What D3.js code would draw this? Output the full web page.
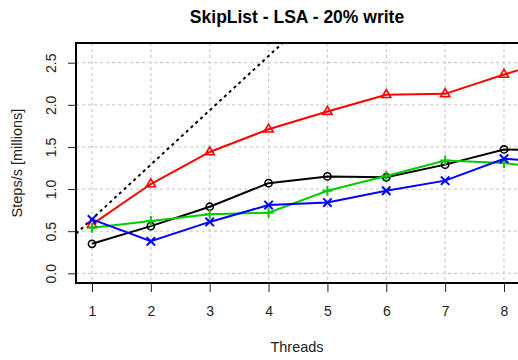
<!DOCTYPE html>
<html>
<head>
<meta charset="utf-8">
<script src="https://cdn.jsdelivr.net/npm/d3@7"></script>
<style>
  html, body { margin: 0; padding: 0; background: #fff; }
  svg { display: block; }
  text { font-family: "Liberation Sans", Arial, sans-serif; }
</style>
</head>
<body>
<svg id="chart" width="518" height="360"></svg>
<script>
// Throughput per thread count (millions of steps per second)
const threads = [1, 2, 3, 4, 5, 6, 7, 8, 9];
const seriesBlack = [0.35, 0.56, 0.79, 1.07, 1.15, 1.14, 1.29, 1.47, 1.45];
const seriesRed   = [0.58, 1.06, 1.44, 1.71, 1.92, 2.12, 2.13, 2.36, 2.57];
const seriesGreen = [0.54, 0.62, 0.70, 0.72, 0.98, 1.155, 1.34, 1.31, 1.22];
const seriesBlue  = [0.64, 0.38, 0.61, 0.81, 0.84, 0.98, 1.10, 1.36, 1.31];
// Ideal linear scaling: steps/s per thread
const idealPerThread = 0.645;
const idealThreads = [0, 9];

const xTicks = [1, 2, 3, 4, 5, 6, 7, 8];
const yTicks = [0, 0.5, 1.0, 1.5, 2.0, 2.5];

const title = "SkipList - LSA - 20% write";
const xTitle = "Threads";
const yTitle = "Steps/s [millions]";

const svg = d3.select("#chart");
const plot = { left: 76, right: 520, top: 43, bottom: 283 };

const x = d3.scaleLinear().domain([1, 8]).range([92, 504]);
const y = d3.scaleLinear().domain([0, 2.5]).range([273.3, 62.7]);

svg.append("defs").append("clipPath").attr("id", "plotClip")
  .append("rect")
  .attr("x", plot.left).attr("y", plot.top)
  .attr("width", plot.right - plot.left).attr("height", plot.bottom - plot.top);

// Grid
const grid = svg.append("g").attr("stroke", "#cfcfcf").attr("stroke-width", 1.3)
  .attr("stroke-dasharray", "3,3");
grid.selectAll("line.v").data(xTicks).join("line")
  .attr("x1", d => x(d)).attr("x2", d => x(d))
  .attr("y1", plot.top).attr("y2", plot.bottom);
grid.selectAll("line.h").data(yTicks).join("line")
  .attr("x1", plot.left).attr("x2", plot.right)
  .attr("y1", d => y(d)).attr("y2", d => y(d));

// Axes
const yAxis = svg.append("g").attr("transform", `translate(${plot.left},0)`)
  .call(d3.axisLeft(y).tickValues(yTicks).tickFormat(d3.format(".1f")).tickSize(8).tickSizeOuter(0));
yAxis.select(".domain").remove();
yAxis.selectAll(".tick line").attr("stroke", "#222").attr("stroke-width", 1);
yAxis.selectAll(".tick text")
  .attr("x", null).attr("dy", null)
  .attr("transform", "translate(-25,0) rotate(-90)")
  .attr("text-anchor", "middle").attr("dominant-baseline", "central")
  .attr("font-size", 14).attr("fill", "#222")
  .style("font-family", "'Liberation Sans', Arial, sans-serif");

const xAxis = svg.append("g").attr("transform", `translate(0,${plot.bottom})`)
  .call(d3.axisBottom(x).tickValues(xTicks).tickFormat(d3.format("d")).tickSize(9).tickSizeOuter(0));
xAxis.select(".domain").remove();
xAxis.selectAll(".tick line").attr("stroke", "#222").attr("stroke-width", 1);
xAxis.selectAll(".tick text")
  .attr("y", 28).attr("dy", null)
  .attr("dominant-baseline", "central")
  .attr("font-size", 14).attr("fill", "#222")
  .style("font-family", "'Liberation Sans', Arial, sans-serif");

// Data layer
const data = svg.append("g").attr("clip-path", "url(#plotClip)");

const line = d3.line().x(d => x(d[0])).y(d => y(d[1]));

// Ideal scaling reference
data.append("path")
  .datum(idealThreads.map(t => [t, t * idealPerThread]))
  .attr("d", line).attr("fill", "none")
  .attr("stroke", "#000").attr("stroke-width", 2).attr("stroke-dasharray", "3,3.5");

const markers = {
  circle: g => g.append("circle").attr("r", 3.6).attr("fill", "none").attr("stroke-width", 1.6),
  triangle: g => g.append("path").attr("d", "M0,-5.2L4.6,2.8L-4.6,2.8Z").attr("fill", "none").attr("stroke-width", 1.6),
  plus: g => g.append("path").attr("d", "M-5,0H5M0,-5V5").attr("fill", "none").attr("stroke-width", 2),
  cross: g => g.append("path").attr("d", "M-4.2,-4.2L4.2,4.2M-4.2,4.2L4.2,-4.2").attr("fill", "none").attr("stroke-width", 2)
};

const series = [
  { values: seriesBlack, color: "#000000", marker: "circle" },
  { values: seriesRed, color: "#ff0000", marker: "triangle" },
  { values: seriesGreen, color: "#00cd00", marker: "plus" },
  { values: seriesBlue, color: "#0000ff", marker: "cross" }
];

series.forEach(s => {
  const pts = threads.map((t, i) => [t, s.values[i]]);
  data.append("path").datum(pts).attr("d", line)
    .attr("fill", "none").attr("stroke", s.color).attr("stroke-width", 2);
  pts.forEach(p => {
    const g = data.append("g").attr("transform", `translate(${x(p[0])},${y(p[1])})`)
      .attr("stroke", s.color);
    markers[s.marker](g);
  });
});

// Plot frame
svg.append("rect")
  .attr("x", plot.left).attr("y", plot.top)
  .attr("width", plot.right - plot.left).attr("height", plot.bottom - plot.top)
  .attr("fill", "none").attr("stroke", "#000").attr("stroke-width", 2);

// Titles
svg.append("text").attr("x", 297).attr("y", 23)
  .attr("text-anchor", "middle").attr("font-size", 17.5).attr("font-weight", "bold")
  .attr("fill", "#000").text(title);
svg.append("text").attr("x", 297).attr("y", 347)
  .attr("text-anchor", "middle").attr("dominant-baseline", "central")
  .attr("font-size", 14.5).attr("fill", "#222").text(xTitle);
svg.append("text").attr("transform", "translate(17,163) rotate(-90)")
  .attr("text-anchor", "middle").attr("dominant-baseline", "central")
  .attr("font-size", 14.5).attr("fill", "#222").text(yTitle);
</script>
</body>
</html>
